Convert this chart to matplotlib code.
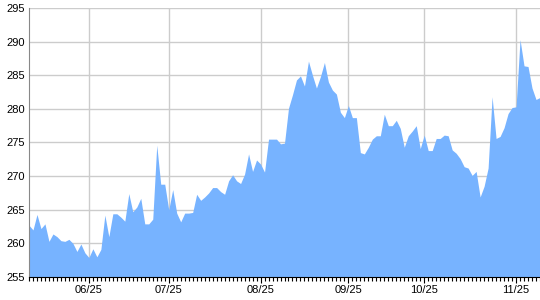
import matplotlib
matplotlib.use("Agg")
import matplotlib.pyplot as plt
import numpy as np

plt.rcParams["font.family"] = ["Liberation Sans", "DejaVu Sans"]

# daily values
values = [
    262.7, 262.0, 264.3, 262.2, 262.9, 260.3, 261.4, 261.0, 260.4, 260.3,
    260.6, 260.0, 258.8, 259.9, 258.6, 257.9, 259.2, 258.0, 259.1, 264.2,
    261.0, 264.4, 264.4, 263.9, 263.3, 267.4, 264.7, 265.4, 266.7, 262.9,
    262.9, 263.6, 274.6, 268.8, 268.8, 265.0, 268.0, 264.5, 263.2, 264.5,
    264.5, 264.6, 267.3, 266.4, 266.9, 267.5, 268.3, 268.3, 267.7, 267.3,
    269.3, 270.2, 269.3, 268.9, 270.3, 273.3, 270.7, 272.4, 271.8, 270.6,
    275.5, 275.5, 275.5, 274.8, 274.9, 280.1, 282.1, 284.3, 284.9, 283.4,
    287.1, 285.0, 283.1, 284.8, 286.9, 284.0, 282.8, 282.2, 279.5, 278.7,
    280.5, 278.7, 278.7, 273.5, 273.3, 274.3, 275.5, 276.0, 276.0, 279.2,
    277.5, 277.5, 278.3, 277.1, 274.3, 276.0, 276.7, 277.5, 274.1, 276.1,
    273.8, 273.8, 275.6, 275.6, 276.1, 276.0, 273.9, 273.4, 272.6, 271.4,
    271.2, 270.1, 270.7, 266.9, 268.5, 271.2, 281.8, 275.6, 275.9, 277.2,
    279.3, 280.2, 280.3, 290.3, 286.4, 286.3, 283.1, 281.4, 281.7,
]
tick_idx = [15, 35, 58, 80, 99, 122]
tick_labels = ["06/25", "07/25", "08/25", "09/25", "10/25", "11/25"]
y_ticks = [255, 260, 265, 270, 275, 280, 285, 290, 295]

x = np.arange(len(values))

fig = plt.figure(figsize=(5.4, 3.0), dpi=100)
ax = fig.add_axes([29 / 540, 23 / 300, 511 / 540, 269 / 300])

ax.fill_between(x, values, 255, color="#77b3ff", linewidth=0, zorder=2)

ax.set_xlim(0, len(values) - 1)
ax.set_ylim(255, 295)
ax.set_yticks(y_ticks)
ax.set_xticks(tick_idx)
ax.set_xticklabels(tick_labels)
ax.set_xticks(x, minor=True)

ax.grid(True, color="#cccccc", linewidth=1, zorder=1)
ax.set_axisbelow(True)

for s in ["top", "right"]:
    ax.spines[s].set_visible(False)
ax.spines["left"].set_color("#888888")
ax.spines["bottom"].set_color("#000000")

ax.tick_params(axis="y", length=0, labelsize=8, pad=3, colors="#000000")
ax.tick_params(axis="x", which="major", length=4, labelsize=8, pad=2)
ax.tick_params(axis="x", which="minor", length=3, width=0.8)

fig.savefig("out.png", dpi=100, facecolor="white")
